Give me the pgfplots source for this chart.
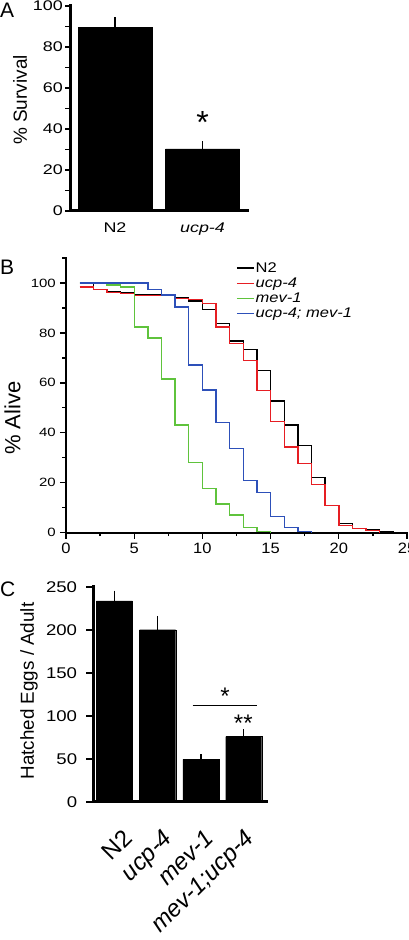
\documentclass[border=0pt]{standalone}
\usepackage{fontspec}
\setmainfont{Liberation Sans}
\usepackage{graphicx}
\usepackage{pgfplots}
\pgfplotsset{compat=1.18}
\definecolor{cred}{RGB}{230,30,35}
\definecolor{cgreen}{RGB}{95,195,60}
\definecolor{cblue}{RGB}{45,80,185}
\newcommand{\sx}[2]{\scalebox{#1}[1]{#2}}
\newcommand{\fs}[1]{\fontsize{#1}{#1}\selectfont}
\pgfplotsset{
  panel/.style={scale only axis, anchor=south west, axis lines=left,
    axis line style={-, line cap=rect}, tick align=outside,
    /pgf/number format/assume math mode=true, tick style={black}},
}
\begin{document}
\begin{tikzpicture}[x=1pt,y=1pt]
\useasboundingbox (0,0) rectangle (408,940);
% ---------------- Panel A ----------------
\node[anchor=north west, inner sep=0pt, font=\fs{21}] at (0,937) {A};
\begin{axis}[panel, at={(70pt,729pt)}, width=177pt, height=205pt,
 xmin=0, xmax=177, ymin=0, ymax=100,
 axis line style={line width=3pt},
 ytick={0,20,...,100}, minor ytick={10,30,...,90},
 major tick length=5pt, minor tick length=5pt,
 y tick style={line width=1.8pt},
 xtick={45,132.5}, xticklabels={\sx{1.28}{N2}, \sx{1.28}{\textit{ucp-4}}},
 x tick style={draw=none},
 xticklabel style={font=\fs{14}, inner sep=0pt, yshift=-7pt},
 yticklabel={\sx{1.28}{\pgfmathprintnumber{\tick}}},
 yticklabel style={font=\fs{14}, inner sep=0pt, xshift=-2pt},
 ylabel={\% Survival},
 ylabel style={font=\fs{19}, at={(axis description cs:-0.2825,0.5415)}, anchor=center},
]
\addplot[ybar, bar width=74pt, fill=black, draw=black,
  error bars/.cd, y dir=plus, y explicit,
  error bar style={line width=1.5pt, black},
  error mark options={mark size=3.5pt, line width=1.5pt, black}]
  coordinates {(45,89.5) +- (0,3.3) (132.5,30.3) +- (0,2.0)};
\node[anchor=north, inner sep=0pt, font=\fs{32}] at (axis cs:132.5,48.4) {*};
\end{axis}
% ---------------- Panel B ----------------
\node[anchor=north west, inner sep=0pt, font=\fs{21}] at (0,680) {B};
\begin{axis}[panel, at={(66pt,407.3pt)}, width=341pt, height=274.7pt,
 xmin=0, xmax=25, ymin=0, ymax=110,
 axis line style={line width=2pt},
 xtick={0,5,...,25}, minor xtick={2.5,7.5,...,22.5},
 ytick={0,20,...,100}, minor ytick={10,30,...,110},
 major tick length=6pt, minor tick length=3.5pt,
 tick style={line width=1.3pt},
 xticklabel={\sx{1.1}{\pgfmathprintnumber{\tick}}},
 xticklabel style={font=\fs{15}, inner sep=0pt, yshift=-4.3pt},
 yticklabel={\sx{1.25}{\pgfmathprintnumber{\tick}}},
 yticklabel style={font=\fs{12}, inner sep=0pt, xshift=-4pt},
 ylabel={\% Alive},
 ylabel style={font=\fs{22}, at={(axis description cs:-0.157,0.4175)}, anchor=center},
 legend cell align=left,
 legend style={at={(axis cs:12.46,108.7)}, anchor=north west, draw=none, fill=none,
   inner sep=0pt, font=\fs{14}, row sep=2pt, nodes={inner sep=1pt}},
]
\addplot[color=black, line width=1.4pt, const plot] coordinates {(1,99.7) (2,97.5) (3,96.5) (4,96) (5,95.3) (7,95) (8,94.3) (9,92.8) (10,89.3) (11,83.7) (12,76.7) (13,73.3) (14,65) (15,52.8) (16,43.1) (17,34.8) (18,22) (19,10.8) (20,3.6) (21,1.8) (22,1.1) (23,0.3) (24,0)};
\addlegendentry{\sx{1.18}{N2}}
\addplot[color=cred, line width=1.4pt, const plot] coordinates {(1,98.4) (2,97.3) (3,96.3) (4,95.7) (5,95.1) (6,95) (8,93.9) (9,93.3) (10,91.7) (11,82.4) (12,75.8) (13,69) (14,57) (15,44.6) (16,34.3) (17,27.6) (18,19.2) (19,10.8) (20,2.8) (21,1.6) (22,0.8) (23,0)};
\addlegendentry{\sx{1.18}{\textit{ucp-4}}}
\addplot[color=cgreen, line width=1.4pt, const plot] coordinates {(1,100) (3,99.2) (4,98.4) (5,82.4) (6,78) (7,61.5) (8,43.1) (9,28.1) (10,17.6) (11,11.5) (12,7.1) (13,2.1) (14,0.5) (15,0)};
\addlegendentry{\sx{1.18}{\textit{mev-1}}}
\addplot[color=cblue, line width=1.4pt, const plot] coordinates {(1,100) (6,97.4) (7,95.2) (8,90.3) (9,67.1) (10,57.2) (11,44.1) (12,33.8) (13,20.8) (14,16) (15,6.6) (16,2.2) (17,0.4) (18,0)};
\addlegendentry{\sx{1.18}{\textit{ucp-4; mev-1}}}
\end{axis}
% ---------------- Panel C ----------------
\node[anchor=north west, inner sep=0pt, font=\fs{21}] at (0,358) {C};
\begin{axis}[panel, at={(93.3pt,138.3pt)}, width=173.4pt, height=215pt,
 xmin=0, xmax=173.4, ymin=0, ymax=250,
 axis line style={line width=3pt},
 ytick={0,50,...,250},
 major tick length=7pt,
 y tick style={line width=1.8pt},
 xtick={28.4,68.4,110,150},
 xticklabels={N2,\textit{ucp-4},\textit{mev-1},\textit{mev-1;ucp-4}},
 x tick style={draw=none},
 xticklabel style={font=\fs{24}, rotate=45, anchor=north east, inner sep=0pt},
 xticklabel shift=19pt,
 yticklabel={\sx{1.2}{\pgfmathprintnumber{\tick}}},
 yticklabel style={font=\fs{15.5}, inner sep=0pt, xshift=-9pt},
 ylabel={Hatched Eggs / Adult},
 ylabel style={font=\fs{18.8}, at={(axis description cs:-0.371,0.515)}, anchor=center},
]
\addplot[ybar, bar width=36pt, fill=black, draw=black,
  error bars/.cd, y dir=plus, y explicit,
  error bar style={line width=1.5pt, black},
  error mark options={mark size=3.5pt, line width=1.5pt, black}]
  coordinates {(21,233.4) +- (0,8.1) (64.4,200) +- (0,12) (107.5,49.3) +- (0,2) (150.4,75.6) +- (0,4.6)};
\draw[line width=1pt] (axis cs:99.4,111.6) -- (axis cs:164,111.6);
\node[anchor=north, inner sep=0pt, font=\fs{24}] at (axis cs:131.7,131.9) {*};
\node[anchor=north, inner sep=0pt, font=\fs{24}] at (axis cs:150,100.8) {**};
\end{axis}
\end{tikzpicture}
\end{document}
